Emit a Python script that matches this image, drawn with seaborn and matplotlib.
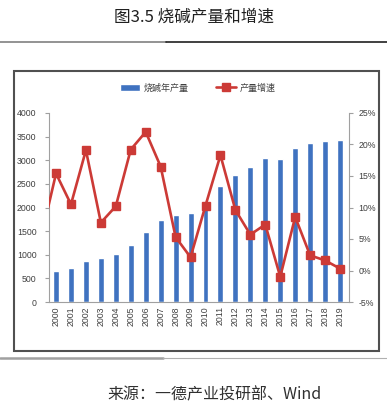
import numpy as np
import pandas as pd
import seaborn as sns
import matplotlib.pyplot as plt
from matplotlib.patches import Rectangle
from matplotlib.lines import Line2D
from matplotlib.ticker import FixedLocator

years = [str(y) for y in range(2000, 2020)]
output = [655, 725, 860, 935, 1025, 1215, 1485, 1745, 1835, 1880,
          2095, 2455, 2695, 2860, 3040, 3020, 3265, 3365, 3405, 3435]
# growth rate (%), first value is 1999 (line runs in from the left edge)
growth_years = ["1999"] + years
growth = [5.2, 15.4, 10.5, 19.1, 7.6, 10.2, 19.2, 22.0, 16.5, 5.3, 2.1,
          10.3, 18.3, 9.6, 5.7, 7.3, -1.0, 8.5, 2.4, 1.6, 0.3]

sns.set_style("white")
plt.rcParams["font.family"] = ["Liberation Sans", "Noto Sans CJK SC", "DejaVu Sans"]
cjk = ["Noto Sans CJK SC", "DejaVu Sans"]

bar_color = "#3F72C0"
line_color = "#CC3A36"
axis_grey = "#A0A0A0"
text_grey = "#404040"

fig = plt.figure(figsize=(3.87, 4.16), dpi=100)
ax = fig.add_axes([49 / 387, 1 - 302 / 416, 300 / 387, 189 / 416])

df = pd.DataFrame({"year": years, "output": output})
sns.barplot(data=df, x="year", y="output", color=bar_color, width=0.4,
            saturation=1, ax=ax, label="烧碱年产量")
if ax.get_legend() is not None:
    ax.get_legend().remove()
ax.set_ylim(0, 4000)
ax.set_yticks(range(0, 4001, 500))
ax.set_xlabel("")
ax.set_ylabel("")

ax2 = ax.twinx()
pos = np.arange(len(growth_years)) - 1
ax2.plot(pos, growth, color=line_color, lw=1.9, marker="s", ms=5.5,
         mfc=line_color, mec=line_color, label="产量增速", clip_on=True)
ax2.set_ylim(-5, 25)
ax2.set_yticks(range(-5, 26, 5))
ax2.set_yticklabels([f"{v}%" for v in range(-5, 26, 5)])
ax.set_xlim(-0.47, 19.6)

for a in (ax, ax2):
    for s in a.spines.values():
        s.set_visible(False)
    a.tick_params(labelsize=6.3, colors=text_grey, length=0, pad=3)

ax.spines["left"].set_visible(True)
ax.spines["left"].set_color(axis_grey)
ax.spines["bottom"].set_visible(True)
ax.spines["bottom"].set_color(axis_grey)
ax2.spines["right"].set_visible(True)
ax2.spines["right"].set_color(axis_grey)
ax.tick_params(axis="y", length=3, color=axis_grey, pad=6)
ax2.tick_params(axis="y", length=3, color=axis_grey, pad=4)
ax.tick_params(axis="x", rotation=90, pad=3)
ax.xaxis.set_minor_locator(FixedLocator(np.arange(-0.5, 20, 1)))
ax.tick_params(axis="x", which="minor", length=3, color=axis_grey)

# legend above plot
h1, l1 = ax.get_legend_handles_labels()
h2, l2 = ax2.get_legend_handles_labels()
leg = fig.legend(h1 + h2, l1 + l2, loc="center", bbox_to_anchor=(198 / 387, 1 - 88 / 416),
                 ncol=2, frameon=False, prop={"family": cjk, "size": 6.5},
                 handlelength=2.2, columnspacing=3, handletextpad=0.4)
for t in leg.get_texts():
    t.set_color(text_grey)

# chart frame
fig.add_artist(Rectangle((14 / 387, 1 - 351 / 416), 365 / 387, 280 / 416,
                         transform=fig.transFigure, fill=False,
                         edgecolor="#505050", lw=1.5))

# rules
fig.add_artist(Line2D([0, 0.43], [1 - 42 / 416] * 2, color="#808080", lw=1.2))
fig.add_artist(Line2D([0.43, 1], [1 - 42 / 416] * 2, color="#202020", lw=1.2))
fig.add_artist(Line2D([0, 0.42], [1 - 358 / 416] * 2, color="#A0A0A0", lw=1.8))
fig.add_artist(Line2D([0.42, 1], [1 - 358 / 416] * 2, color="#B0B0B0", lw=0.8))

fig.text(194 / 387, 1 - 17 / 416, "图3.5 烧碱产量和增速", ha="center", va="center",
         fontsize=12, family=cjk, color="#202020")
fig.text(107 / 387, 1 - 395 / 416, "来源：一德产业投研部、Wind", ha="left", va="center",
         fontsize=11.5, family=cjk, color="#303030")

fig.savefig("out.png", dpi=100)
